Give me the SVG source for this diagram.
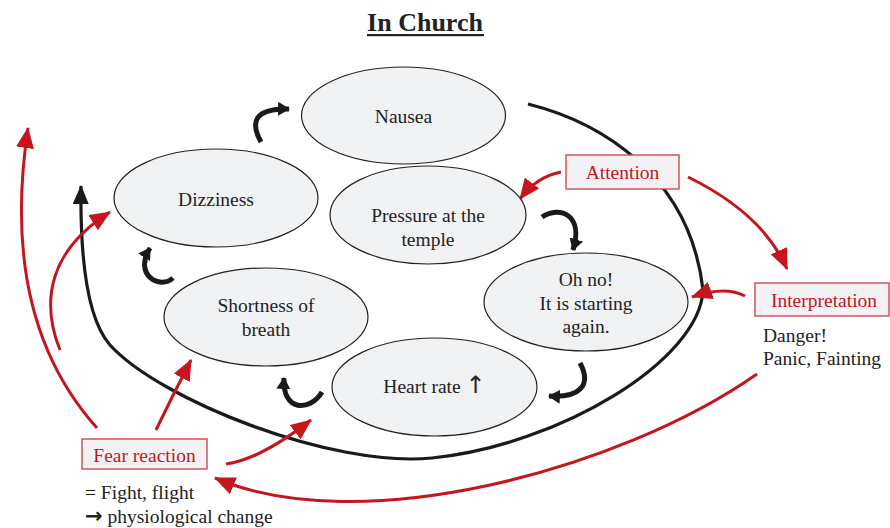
<svg xmlns="http://www.w3.org/2000/svg" width="890" height="528" viewBox="0 0 890 528">
  <style>
    .txt { font-family: "Liberation Serif", "Times New Roman", serif; font-size: 19.5px; fill: #222; }
    .sym { font-family: "DejaVu Sans", sans-serif; }
    .red { fill: #c4161c; }
    .node ellipse { fill: #f1f2f4; stroke: #222; stroke-width: 1.2; }
    .label rect { fill: #f2f2f4; stroke: #cc4a50; stroke-width: 1.4; }
    .loop { fill: none; stroke: #1a1a1a; stroke-width: 3.2; }
    .cyc { fill: none; stroke: #1a1a1a; stroke-width: 5; }
    .rarr { fill: none; stroke: #c4161c; stroke-width: 3; }
  </style>
  <defs>
    <marker id="headRed" markerUnits="userSpaceOnUse" markerWidth="22" markerHeight="18" refX="20" refY="9" orient="auto">
      <path d="M0,0 L21,9 L0,18 z" fill="#c4161c"/>
    </marker>
    <marker id="headBlack" markerUnits="userSpaceOnUse" markerWidth="20" markerHeight="16" refX="18" refY="8" orient="auto">
      <path d="M0,0 L19,8 L0,16 z" fill="#1a1a1a"/>
    </marker>
    <marker id="headCyc" markerUnits="userSpaceOnUse" markerWidth="13" markerHeight="14" refX="11" refY="7" orient="auto">
      <path d="M0,0 L12,7 L0,14 z" fill="#1a1a1a"/>
    </marker>
  </defs>

  <!-- title -->
  <text x="425" y="31" text-anchor="middle" font-family="Liberation Serif, serif" font-size="26" font-weight="bold" fill="#222">In Church</text>
  <rect x="367" y="34" width="117" height="2.2" fill="#222"/>

  <!-- connectors -->
  <g id="connectors">
    <!-- outer vicious-circle loop -->
    <path class="loop" d="M528,104 C600,122 690,175 703,290 C700,360 560,445 432,458 C332,468 160,400 110,345 C88,320 80,260 81,186" marker-end="url(#headBlack)"/>
    <!-- short cycle arrows between symptoms -->
    <path class="cyc" d="M261,142 Q242,108 289,109" marker-end="url(#headCyc)"/>
    <path class="cyc" d="M542,217 C560,205 584,215 573,250" marker-end="url(#headCyc)"/>
    <path class="cyc" d="M580,363 C592,385 580,398 549,396" marker-end="url(#headCyc)"/>
    <path class="cyc" d="M322,392 C310,412 282,412 284,378" marker-end="url(#headCyc)"/>
    <path class="cyc" d="M173,278 C160,290 133,275 150,248" marker-end="url(#headCyc)"/>
    <!-- red process arrows -->
    <path class="rarr" d="M561,172 C545,175 532,183 520,199" marker-end="url(#headRed)"/>
    <path class="rarr" d="M688,177 C735,200 770,230 787,269" marker-end="url(#headRed)"/>
    <path class="rarr" d="M745,296 C730,288 712,290 692,297" marker-end="url(#headRed)"/>
    <path class="rarr" d="M757,374 C620,470 360,540 215,478" marker-end="url(#headRed)"/>
    <path class="rarr" d="M226,464 C255,460 285,440 311,420" marker-end="url(#headRed)"/>
    <path class="rarr" d="M156,430 C168,405 178,385 191,360" marker-end="url(#headRed)"/>
    <path class="rarr" d="M97,428 C45,370 5,280 28,128" marker-end="url(#headRed)"/>
    <path class="rarr" d="M60,350 C40,300 50,250 110,212" marker-end="url(#headRed)"/>
  </g>

  <!-- symptom nodes -->
  <g id="nausea" class="node">
    <ellipse cx="403.5" cy="115.5" rx="102" ry="48.5"/>
    <text class="txt" x="403.5" y="123" text-anchor="middle">Nausea</text>
  </g>
  <g id="dizziness" class="node">
    <ellipse cx="216" cy="198" rx="102" ry="49"/>
    <text class="txt" x="216" y="206" text-anchor="middle">Dizziness</text>
  </g>
  <g id="pressure" class="node">
    <ellipse cx="428" cy="215" rx="98" ry="49"/>
    <text class="txt" x="428" y="222" text-anchor="middle">Pressure at the</text>
    <text class="txt" x="428" y="246" text-anchor="middle">temple</text>
  </g>
  <g id="ohno" class="node">
    <ellipse cx="586" cy="302" rx="102" ry="49"/>
    <text class="txt" x="586" y="286" text-anchor="middle">Oh no!</text>
    <text class="txt" x="586" y="310" text-anchor="middle">It is starting</text>
    <text class="txt" x="586" y="333" text-anchor="middle">again.</text>
  </g>
  <g id="breath" class="node">
    <ellipse cx="266" cy="317" rx="102" ry="49"/>
    <text class="txt" x="266" y="312" text-anchor="middle">Shortness of</text>
    <text class="txt" x="266" y="336" text-anchor="middle">breath</text>
  </g>
  <g id="heartrate" class="node">
    <ellipse cx="434.5" cy="387" rx="102.5" ry="49"/>
    <text class="txt" x="434.5" y="393" text-anchor="middle">Heart rate <tspan class="sym" font-size="24">↑</tspan></text>
  </g>

  <!-- process labels -->
  <g id="attention" class="label">
    <rect x="566" y="155" width="113" height="34"/>
    <text class="txt red" x="622.5" y="179" text-anchor="middle">Attention</text>
  </g>
  <g id="interpretation" class="label">
    <rect x="755" y="283" width="134" height="33"/>
    <text class="txt red" x="824" y="307" text-anchor="middle">Interpretation</text>
    <text class="txt" x="763" y="342">Danger!</text>
    <text class="txt" x="763" y="365">Panic, Fainting</text>
  </g>
  <g id="fear" class="label">
    <rect x="82" y="439" width="125" height="30"/>
    <text class="txt red" x="144.5" y="462" text-anchor="middle">Fear reaction</text>
    <text class="txt" x="85" y="499">= Fight, flight</text>
    <text class="txt" x="85" y="523"><tspan class="sym" font-weight="bold" font-size="21">→</tspan> physiological change</text>
  </g>
</svg>
